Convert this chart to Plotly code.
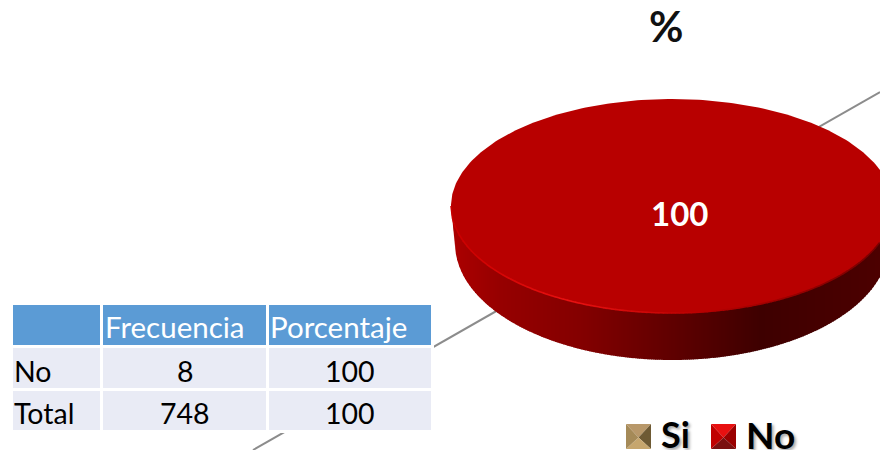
import numpy as np
import plotly.graph_objects as go

title_text = "%"
categories = ["Si", "No"]
shares = [0, 100]
table_header = ["", "Frecuencia", "Porcentaje"]
table_rows = ["No", "Total"]
table_frecuencia = [8, 748]
table_porcentaje = [100, 100]

W, H = 880, 450
FONT = "Lato, Carlito, Calibri, sans-serif"
CX, CY, RX, RY = 672, 206, 221, 107
DEPTH, RX2 = 47, 217


def lerp_colour(stops, x):
    xs = [s[0] for s in stops]
    r = np.interp(x, xs, [s[1][0] for s in stops])
    g = np.interp(x, xs, [s[1][1] for s in stops])
    b = np.interp(x, xs, [s[1][2] for s in stops])
    return f"rgb({r:.0f},{g:.0f},{b:.0f})"


side_stops = [(451, (172, 0, 0)), (500, (150, 0, 0)), (580, (132, 0, 0)), (660, (100, 0, 0)),
              (760, (62, 0, 0)), (880, (76, 0, 0))]
rim_stops = [(451, (200, 0, 0)), (500, (214, 6, 6)), (570, (232, 18, 18)), (650, (205, 8, 8)),
             (700, (185, 0, 0)), (880, (120, 0, 0))]

fig = go.Figure()

# table-to-chart diagonal line that runs behind everything
fig.add_trace(go.Scatter(x=[253, 880], y=[450, 92], mode="lines",
                         line=dict(color="#8c8c8c", width=2),
                         hoverinfo="skip", showlegend=False))

# side wall of the pie: vertical strips shaded left to right
edges = np.arange(451, 882, 2.0)
for x0, x1 in zip(edges[:-1], edges[1:]):
    xs = np.linspace(x0, x1 + 0.6, 4)
    up = CY + RY * np.sqrt(np.clip(1 - ((xs - CX) / RX) ** 2, 0, 1))
    lo = CY + DEPTH * 0.8 + (RY + DEPTH * 0.2) * np.sqrt(np.clip(1 - ((xs - CX) / RX2) ** 2, 0, 1))
    lo = np.minimum(lo, CY + (xs - 451) * 10)
    lo = np.maximum(lo, up)
    fig.add_trace(go.Scatter(x=np.r_[xs, xs[::-1]], y=np.r_[up - 1, lo[::-1]],
                             mode="lines", line=dict(width=0), fill="toself",
                             fillcolor=lerp_colour(side_stops, (x0 + x1) / 2),
                             hoverinfo="skip", showlegend=False))

# top face of each slice, from its share
start = -np.pi / 2
for name, share in zip(categories, shares):
    if share <= 0:
        continue
    theta = np.linspace(start, start + 2 * np.pi * share / sum(shares), 361)
    fig.add_trace(go.Scatter(x=CX + RX * np.cos(theta), y=CY + RY * np.sin(theta),
                             mode="lines", line=dict(width=0), fill="toself",
                             fillcolor="#b80000", name=name,
                             hoverinfo="skip", showlegend=False))
    start = theta[-1]

# bright rim on the front edge of the top face
rim = np.arange(451, 881, 4.0)
for x0, x1 in zip(rim[:-1], rim[1:]):
    xs = np.linspace(x0, x1 + 0.5, 4)
    ys = CY + RY * np.sqrt(np.clip(1 - ((xs - CX) / RX) ** 2, 0, 1))
    fig.add_trace(go.Scatter(x=xs, y=ys, mode="lines",
                             line=dict(color=lerp_colour(rim_stops, (x0 + x1) / 2), width=1.6),
                             hoverinfo="skip", showlegend=False))

# table: the trace gives the cells, its text is placed on top so it can sit low in the cell
n_rows = len(table_rows)
fig.add_trace(go.Table(
    domain=dict(x=[11 / W, 432.5 / W], y=[0.0, 1 - 303.5 / H]),
    columnwidth=[91, 166, 165],
    header=dict(values=[""] * len(table_header), height=43,
                fill_color="#5b9bd5", line=dict(color="white", width=3)),
    cells=dict(values=[[""] * n_rows] * 3, height=42.5,
               fill_color="#e9ebf5", line=dict(color="white", width=3)),
))

table_notes = []
HEAD_Y, ROW_Y = 326.5, [371, 413]
for label, x in zip(table_header[1:], [103, 268]):
    table_notes.append(dict(x=x, y=HEAD_Y, text=label, showarrow=False, xanchor="left",
                            font=dict(family=FONT, size=29.5, color="white")))
for i in range(n_rows):
    table_notes.append(dict(x=12, y=ROW_Y[i], text=table_rows[i], showarrow=False, xanchor="left",
                            font=dict(family=FONT, size=28.5, color="black")))
    table_notes.append(dict(x=185, y=ROW_Y[i], text=str(table_frecuencia[i]), showarrow=False,
                            font=dict(family=FONT, size=28.5, color="black")))
    table_notes.append(dict(x=350, y=ROW_Y[i], text=str(table_porcentaje[i]), showarrow=False,
                            font=dict(family=FONT, size=28.5, color="black")))

# bevelled legend keys
bevels = {
    "Si": {"x": 626, "top": "#b8986a", "bottom": "#c6a66e", "left": "#a58a58", "right": "#6e5a34"},
    "No": {"x": 711, "top": "#e81010", "bottom": "#7a1010", "left": "#c00000", "right": "#9a0000"},
}
shapes = []
S = 25
Y0 = 424
for key in categories:
    b = bevels[key]
    x0, x1, y0, y1 = b["x"], b["x"] + S, Y0, Y0 + S
    mx, my = (x0 + x1) / 2, (y0 + y1) / 2 + 1
    faces = [
        (b["top"], f"M{x0},{y0} L{x1},{y0} L{mx},{my} Z"),
        (b["right"], f"M{x1},{y0} L{x1},{y1} L{mx},{my} Z"),
        (b["bottom"], f"M{x0},{y1} L{x1},{y1} L{mx},{my} Z"),
        (b["left"], f"M{x0},{y0} L{x0},{y1} L{mx},{my} Z"),
    ]
    for col, path in faces:
        shapes.append(dict(type="path", path=path, xref="x", yref="y",
                           fillcolor=col, line=dict(width=0), layer="above"))

shadow = "2px 2px 3px rgba(0,0,0,0.35)"
annotations = table_notes + [
    dict(x=666, y=26, text=f"<b>{title_text}</b>", showarrow=False,
         font=dict(family=FONT, size=42, color="#111111")),
    dict(x=679.5, y=213, text=f"<b>{shares[1]}</b>", showarrow=False,
         font=dict(family=FONT, size=33, color="white")),
    dict(x=659, y=434, text=f"<b>{categories[0]}</b>", showarrow=False, xanchor="left",
         font=dict(family=FONT, size=36, color="black", shadow=shadow)),
    dict(x=744, y=434, text=f"<b>{categories[1]}</b>", showarrow=False, xanchor="left",
         font=dict(family=FONT, size=37, color="black", shadow=shadow)),
]

fig.update_layout(
    width=W, height=H, autosize=False,
    margin=dict(l=0, r=0, t=0, b=0),
    paper_bgcolor="white", plot_bgcolor="white",
    showlegend=False,
    xaxis=dict(range=[0, W], visible=False, fixedrange=True),
    yaxis=dict(range=[H, 0], visible=False, fixedrange=True),
    shapes=shapes, annotations=annotations,
)
fig.write_html("out.html", config=dict(displayModeBar=False),
               post_script="document.body.style.margin='0';document.documentElement.style.overflow='hidden';")
